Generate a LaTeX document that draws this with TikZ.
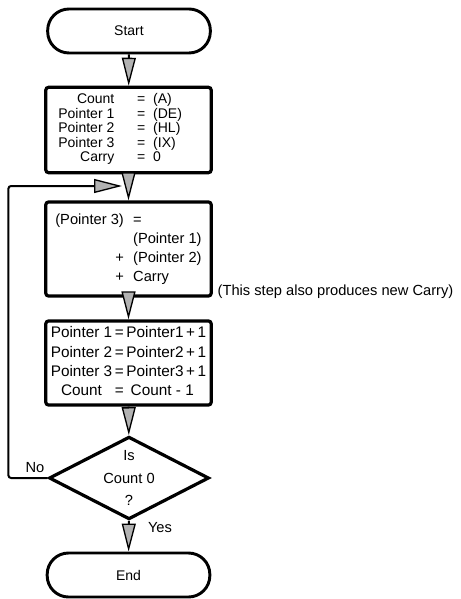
\documentclass[tikz,border=0pt]{standalone}
\usepackage{fontspec}
\setmainfont{Liberation Sans}
\usetikzlibrary{arrows.meta,shapes.geometric}

\tikzset{
  terminal/.style={draw, line width=2.2pt, rectangle, rounded corners=16pt,
    minimum width=122pt, minimum height=33pt, font=\fontsize{10.5}{12}\selectfont},
  process/.style={draw, line width=2.4pt, rounded corners=2pt,
    minimum width=124pt, inner sep=0pt},
  decision/.style={draw, line width=2.4pt, diamond, minimum width=120pt,
    minimum height=62pt, inner sep=0pt},
  flow/.style={line width=1.5pt,
    -{Triangle[length=21pt, width=10.5pt, line width=1pt, fill=gray!60]}},
}

\begin{document}
\begin{tikzpicture}[x=0.75pt, y=-0.75pt, font=\fontsize{11}{14}\selectfont]
  \useasboundingbox (0,0) rectangle (460,599);
  \node[terminal] (start) at (129,31) {Start};
  \node[process, minimum height=64pt, font=\fontsize{10.5}{10.9}\selectfont] (init) at (128.5,130)
    {\begin{tabular}{@{}r@{\hspace{17pt}}c@{\hspace{6pt}}l@{\hspace{12.5pt}}}
      Count & = & (A)\\
      Pointer 1 & = & (DE)\\
      Pointer 2 & = & (HL)\\
      Pointer 3 & = & (IX)\\
      Carry & = & 0
    \end{tabular}};
  \node[process, minimum height=70.5pt, font=\fontsize{11}{14.3}\selectfont] (calc) at (128.5,249)
    {\begin{tabular}{@{}l@{\hspace{7pt}}l@{}}
      (Pointer 3) & =\\
      & (Pointer 1)\\
      \hfill + & (Pointer 2)\\
      \hfill + & Carry
    \end{tabular}};
  \node[anchor=west] (note) at (213,292) {(This step also produces new Carry)};
  \node[process, minimum height=63pt, font=\fontsize{11.5}{14.5}\selectfont] (incr) at (128.5,363)
    {\begin{tabular}{@{}c@{\hspace{2pt}}c@{\hspace{2pt}}l@{}}
      Pointer 1 & = & Pointer1\,+\,1\\
      Pointer 2 & = & Pointer2\,+\,1\\
      Pointer 3 & = & Pointer3\,+\,1\\
      Count & = & \ Count - 1
    \end{tabular}};
  \node[decision] (test) at (129,478) {};
  \node[font=\fontsize{11}{17}\selectfont, align=center] (testtext) at (test) {Is\\Count 0\\?};
  \node[terminal] (end) at (128.5,575) {End};
  \node (no) at (35,468) {No};
  \node (yes) at (160,528) {Yes};
  \coordinate (join) at (122,186);

  \draw[flow] (start) -- (init);
  \draw[flow] (init) -- (calc);
  \draw[flow] (calc) -- (incr);
  \draw[flow] (incr) -- (test);
  \draw[flow] (test) -- (end);
  \draw[flow, rounded corners=2pt] (test.west) -- ++(-39,0) |- (join);
\end{tikzpicture}
\end{document}
